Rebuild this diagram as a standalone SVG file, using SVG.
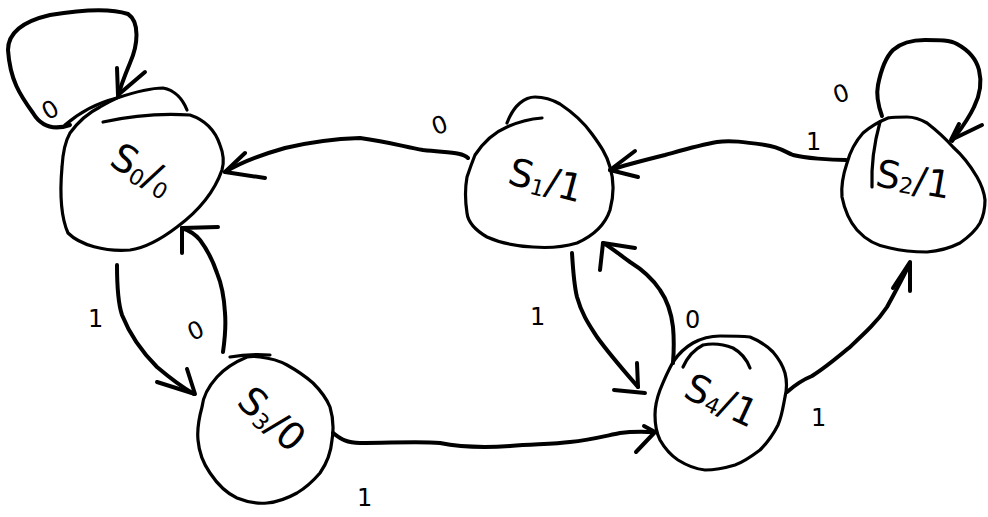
<svg xmlns="http://www.w3.org/2000/svg" width="988" height="517" viewBox="0 0 988 517">
  <style>
    .ink { fill: none; stroke: #000; stroke-width: 4; stroke-linecap: round; stroke-linejoin: round; }
    .thin { fill: none; stroke: #000; stroke-width: 3.2; stroke-linecap: round; stroke-linejoin: round; }
    .state { font-family: "DejaVu Sans", "Liberation Sans", sans-serif; font-size: 38px; fill: #000; }
    .sub { font-size: 22px; }
    .lbl { font-family: "DejaVu Sans", "Liberation Sans", sans-serif; font-size: 24px; fill: #000; }
  </style>
  <rect width="988" height="517" fill="#fff"/>

  <!-- transitions -->
  <g id="connectors">
    <!-- S0 self loop -->
    <g id="e-s0-s0">
      <path class="ink" d="M70,125 C55,130 42,128 33,113 C20,95 10,80 8,50 C8,35 20,22 50,15 C80,10 110,8 128,14 C140,22 138,45 130,63 C125,75 120,88 118,97"/>
      <path class="ink" d="M117,68 L118,95 L145,72"/>
      <text class="lbl" x="42" y="117" transform="rotate(-30 52 108)">0</text>
    </g>
    <!-- S1 -> S0 -->
    <g id="e-s1-s0">
      <path class="ink" d="M468,158 C462,152 450,153 423,150 C405,147 390,142 360,138 C330,139 310,142 285,148 C260,155 240,163 225,172"/>
      <path class="ink" d="M245,153 L225,172 L265,178"/>
      <text class="lbl" x="431" y="132" transform="rotate(-20 443 122)">0</text>
    </g>
    <!-- S2 -> S1 -->
    <g id="e-s2-s1">
      <path class="ink" d="M846,160 C830,160 805,158 793,155 C785,152 780,147 765,145 C745,142 730,140 717,142 C700,145 690,148 665,155 C645,160 625,165 610,170"/>
      <path class="ink" d="M635,151 L610,170 L638,177"/>
      <text class="lbl" x="806" y="150" font-size="16">1</text>
    </g>
    <!-- S0 -> S3 -->
    <g id="e-s0-s3">
      <path class="ink" d="M117,265 C117,280 117,300 122,315 C130,335 140,350 157,367 C170,378 180,386 194,394"/>
      <path class="ink" d="M187,369 L195,394 L157,382"/>
      <text class="lbl" x="88" y="327">1</text>
    </g>
    <!-- S3 -> S0 -->
    <g id="e-s3-s0">
      <path class="ink" d="M223,352 C225,338 226,325 225,313 C224,295 222,285 217,273 C212,258 206,248 200,240 C195,234 188,230 182,228"/>
      <path class="ink" d="M218,227 L182,228 L182,253"/>
      <text class="lbl" x="187" y="338" transform="rotate(-25 197 328)">0</text>
    </g>
    <!-- S3 -> S4 -->
    <g id="e-s3-s4">
      <path class="ink" d="M333,433 C340,438 345,443 360,443 C390,443 420,441 440,443 C460,447 480,448 510,446 C540,444 555,444 570,442 C590,440 605,436 620,433 C635,431 645,432 655,432"/>
      <path class="ink" d="M644,426 L655,432 L636,452"/>
      <text class="lbl" x="357" y="506">1</text>
    </g>
    <!-- S1 -> S4 -->
    <g id="e-s1-s4">
      <path class="ink" d="M572,253 C573,270 574,285 577,297 C582,315 590,326 597,337 C610,355 625,372 638,387"/>
      <path class="ink" d="M637,363 L638,387"/>
      <path class="ink" d="M614,390 L645,393"/>
      <text class="lbl" x="530" y="325" font-size="18">1</text>
    </g>
    <!-- S4 -> S1 -->
    <g id="e-s4-s1">
      <path class="ink" d="M673,363 C674,350 674,338 673,327 C671,310 667,300 660,290 C652,278 643,270 630,262 C620,255 612,248 603,243"/>
      <path class="ink" d="M635,248 L603,243 L600,270"/>
      <text class="lbl" x="685" y="328">0</text>
    </g>
    <!-- S2 self loop -->
    <g id="e-s2-s2">
      <path class="ink" d="M882,116 C878,105 876,95 878,85 C881,70 885,58 893,50 C902,42 912,40 925,40 C940,40 950,40 957,44 C968,50 976,58 979,70 C982,82 980,95 974,107 C968,120 960,130 952,141"/>
      <path class="ink" d="M959,124 L951,140 L982,125"/>
      <text class="lbl" x="833" y="101" transform="rotate(-20 843 92)">0</text>
    </g>
    <!-- S4 -> S2 -->
    <g id="e-s4-s2">
      <path class="ink" d="M787,392 C795,385 802,380 812,376 C825,368 838,357 850,347 C865,333 877,322 887,307 C895,292 903,278 910,263"/>
      <path class="ink" d="M893,288 L910,262 L910,291" stroke-width="4.5"/>
      <text class="lbl" x="811" y="426">1</text>
    </g>
  </g>

  <!-- S0 -->
  <g id="s0">
    <path class="thin" d="M65,125 C80,112 97,103 117,98 C135,92 150,88 163,88 C175,90 183,100 187,110"/>
    <path class="thin" d="M103,122 C130,116 160,113 190,115 C205,120 215,130 220,145 C224,155 224,163 222,170 C215,190 200,210 177,227 C160,240 145,248 130,250 C105,252 80,245 68,233 C60,215 60,190 62,167 C63,150 66,140 70,133 C78,122 90,112 100,107 C105,104 110,101 117,98"/>
    <text class="state" x="110" y="184" transform="rotate(30 145 170)">S<tspan class="sub" dy="4">0</tspan><tspan dy="-4">/</tspan><tspan class="sub" dy="4">0</tspan></text>
  </g>

  <!-- S1 -->
  <g id="s1">
    <path class="thin" d="M507,123 C510,115 514,108 520,103 C526,98 530,97 535,97 C545,97 553,100 560,104 C575,114 585,124 592,134 C600,145 607,155 610,167 C614,180 614,195 610,210 C605,225 595,235 577,243 C560,248 545,248 533,247 C515,246 498,242 487,237 C475,230 468,222 467,213 C465,200 465,188 467,177 C470,168 473,160 475,155 C485,140 495,132 507,127 C518,122 530,119 542,118"/>
    <text class="state" x="507" y="192" font-size="33" transform="rotate(15 540 185)">S<tspan class="sub" dy="4">1</tspan><tspan dy="-4">/</tspan>1</text>
  </g>

  <!-- S2 -->
  <g id="s2">
    <path class="thin" d="M888,118 C878,122 870,127 863,133 C855,142 850,152 847,163 C843,175 841,187 842,197 C845,212 850,222 857,230 C866,240 877,246 890,248 C902,251 915,252 927,252 C940,251 950,248 960,243 C970,236 976,230 980,223 C984,215 985,207 985,200 C984,190 981,184 977,177 C970,165 962,155 953,147 C945,138 936,130 927,123 C920,119 913,117 907,117 C900,117 894,117 888,118"/>
    <path class="thin" d="M880,122 C875,140 871,160 872,187"/>
    <text class="state" x="875" y="192" font-size="33" transform="rotate(10 910 185)">S<tspan class="sub" dy="2">2</tspan><tspan dy="-2">/</tspan>1</text>
  </g>

  <!-- S3 -->
  <g id="s3">
    <path class="thin" d="M230,357 C240,355 255,354 270,355"/>
    <path class="thin" d="M247,357 C235,362 225,368 217,377 C208,387 203,397 202,407 C199,418 197,430 198,440 C199,452 203,463 210,473 C218,485 226,493 237,498 C247,502 257,504 267,503 C278,502 288,498 297,493 C307,487 314,480 320,473 C327,463 331,452 332,440 C334,428 333,417 330,407 C326,397 320,390 313,383 C305,376 296,370 287,365 C278,360 269,358 260,357 C255,356 251,356 247,357"/>
    <text class="state" x="224" y="427" transform="rotate(42 260 430)">S<tspan class="sub" dy="4">3</tspan><tspan dy="-4">/</tspan>0</text>
  </g>

  <!-- S4 -->
  <g id="s4">
    <path class="thin" d="M673,362 C679,353 686,347 693,343 C702,338 710,336 720,336 C730,336 740,336 750,337 C760,341 767,346 773,352 C779,359 783,366 785,373 C787,381 787,389 785,397 C783,407 782,416 778,425 C773,435 767,443 760,450 C752,456 744,462 735,465 C725,468 715,470 705,470 C695,469 686,465 678,460 C669,454 664,447 660,440 C656,432 655,423 655,415 C655,406 657,398 660,390 C664,380 668,371 673,362"/>
    <path class="thin" d="M683,367 C688,356 695,349 703,345 C713,343 723,344 733,348 C742,353 747,360 750,368"/>
    <text class="state" x="681" y="410" font-size="33" transform="rotate(25 712 405)">S<tspan class="sub" dy="3">4</tspan><tspan dy="-3">/</tspan>1</text>
  </g>
</svg>
